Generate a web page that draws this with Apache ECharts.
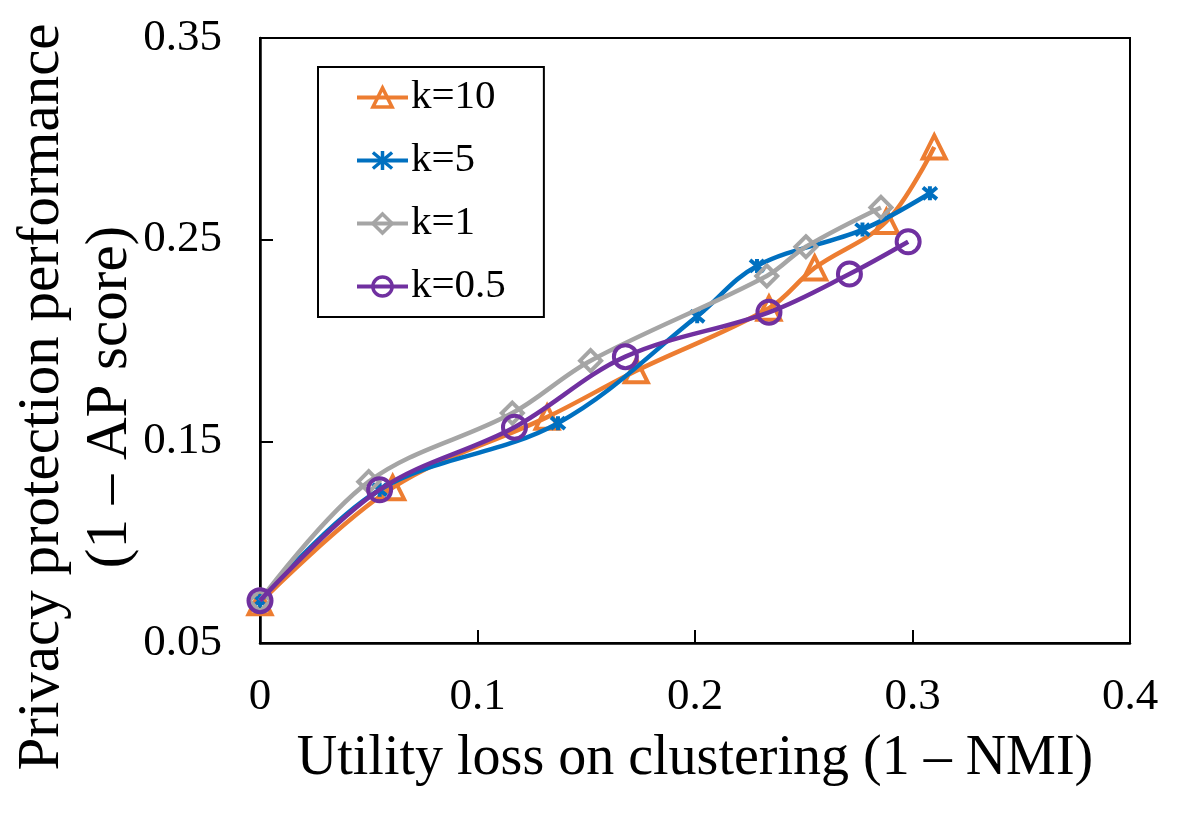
<!DOCTYPE html>
<html>
<head>
<meta charset="utf-8">
<script src="https://cdn.jsdelivr.net/npm/echarts@6/dist/echarts.min.js"></script>
<style>
  html, body { margin: 0; padding: 0; background: #fff; }
  #chart { width: 1196px; height: 815px; }
</style>
</head>
<body>
<div id="chart"></div>
<script>
// values
var k10X = [0, 0.061, 0.132, 0.173, 0.234, 0.255, 0.288, 0.310];
var k10Y = [0.070, 0.127, 0.162, 0.185, 0.216, 0.236, 0.259, 0.296];
var k5X = [0, 0.055, 0.137, 0.201, 0.2285, 0.277, 0.308];
var k5Y = [0.071, 0.126, 0.159, 0.212, 0.237, 0.255, 0.273];
var k1X = [0, 0.050, 0.116, 0.152, 0.233, 0.251, 0.2855];
var k1Y = [0.071, 0.130, 0.164, 0.190, 0.232, 0.2465, 0.266];
var k05X = [0, 0.055, 0.117, 0.168, 0.234, 0.271, 0.298];
var k05Y = [0.071, 0.126, 0.157, 0.192, 0.214, 0.233, 0.249];

var seriesNames = ['k=10', 'k=5', 'k=1', 'k=0.5'];
var colors = ['#ED7D31', '#0070C0', '#A5A5A5', '#7030A0'];

var FONT = 'Liberation Serif';

function pairs(xs, ys) {
    return xs.map(function (x, i) { return [x, ys[i]]; });
}

var asterisk = 'path://M0,0L10,10M10,0L0,10M5,-1L5,11';

function makeSeries(i, data, symbol, size) {
    return {
        name: seriesNames[i],
        type: 'line',
        data: data,
        smooth: 0.35,
        symbol: symbol,
        symbolSize: size,
        showAllSymbol: true,
        lineStyle: { color: colors[i], width: 4.5 },
        itemStyle: { color: 'transparent', borderColor: colors[i], borderWidth: 4 },
        emphasis: { disabled: true },
        z: 2 + i
    };
}

var chart = echarts.init(document.getElementById('chart'));
chart.setOption({
    animation: false,
    backgroundColor: '#fff',
    grid: {
        left: 260, top: 38, right: 66, bottom: 172,
        show: true, borderColor: '#000', borderWidth: 2,
        containLabel: false
    },
    legend: {
        orient: 'vertical',
        left: 318, top: 67,
        padding: [10, 38, 10, 37],
        itemGap: 22,
        itemWidth: 51,
        itemHeight: 24,
        borderColor: '#000',
        borderWidth: 2,
        backgroundColor: '#fff',
        itemStyle: { borderWidth: 3.5 },
        lineStyle: { width: 4 },
        textStyle: { fontFamily: FONT, fontSize: 41, color: '#000', padding: [0, 0, 0, -2] },
        data: seriesNames
    },
    xAxis: {
        type: 'value',
        min: 0, max: 0.4, interval: 0.1,
        name: 'Utility loss on clustering (1 \u2013 NMI)',
        nameLocation: 'middle',
        nameGap: 88,
        nameTextStyle: { fontFamily: FONT, fontSize: 56, color: '#000' },
        axisLine: { lineStyle: { color: '#000', width: 2.5 } },
        axisTick: { inside: true, length: 13, lineStyle: { color: '#000', width: 2 } },
        axisLabel: {
            fontFamily: FONT, fontSize: 45, color: '#000', margin: 32,
            formatter: function (v) { return v === 0 ? '0' : v.toFixed(1); }
        },
        splitLine: { show: false }
    },
    yAxis: {
        type: 'value',
        min: 0.05, max: 0.35, interval: 0.1,
        axisLine: { lineStyle: { color: '#000', width: 2.5 } },
        axisTick: { inside: true, length: 13, lineStyle: { color: '#000', width: 2 } },
        axisLabel: {
            fontFamily: FONT, fontSize: 45, color: '#000', margin: 38,
            formatter: function (v) { return v.toFixed(2); }
        },
        splitLine: { show: false }
    },
    graphic: [{
        type: 'text',
        x: 76, y: 397,
        rotation: Math.PI / 2,
        style: {
            text: 'Privacy protection performance\n(1 \u2013 AP score)',
            font: '59px "Liberation Serif"',
            fill: '#000',
            lineHeight: 68,
            align: 'center',
            verticalAlign: 'middle'
        }
    }],
    series: [
        makeSeries(0, pairs(k10X, k10Y), 'triangle', 23),
        makeSeries(1, pairs(k5X, k5Y), asterisk, 14),
        makeSeries(2, pairs(k1X, k1Y), 'diamond', 21),
        makeSeries(3, pairs(k05X, k05Y), 'circle', 23)
    ]
});
</script>
</body>
</html>
